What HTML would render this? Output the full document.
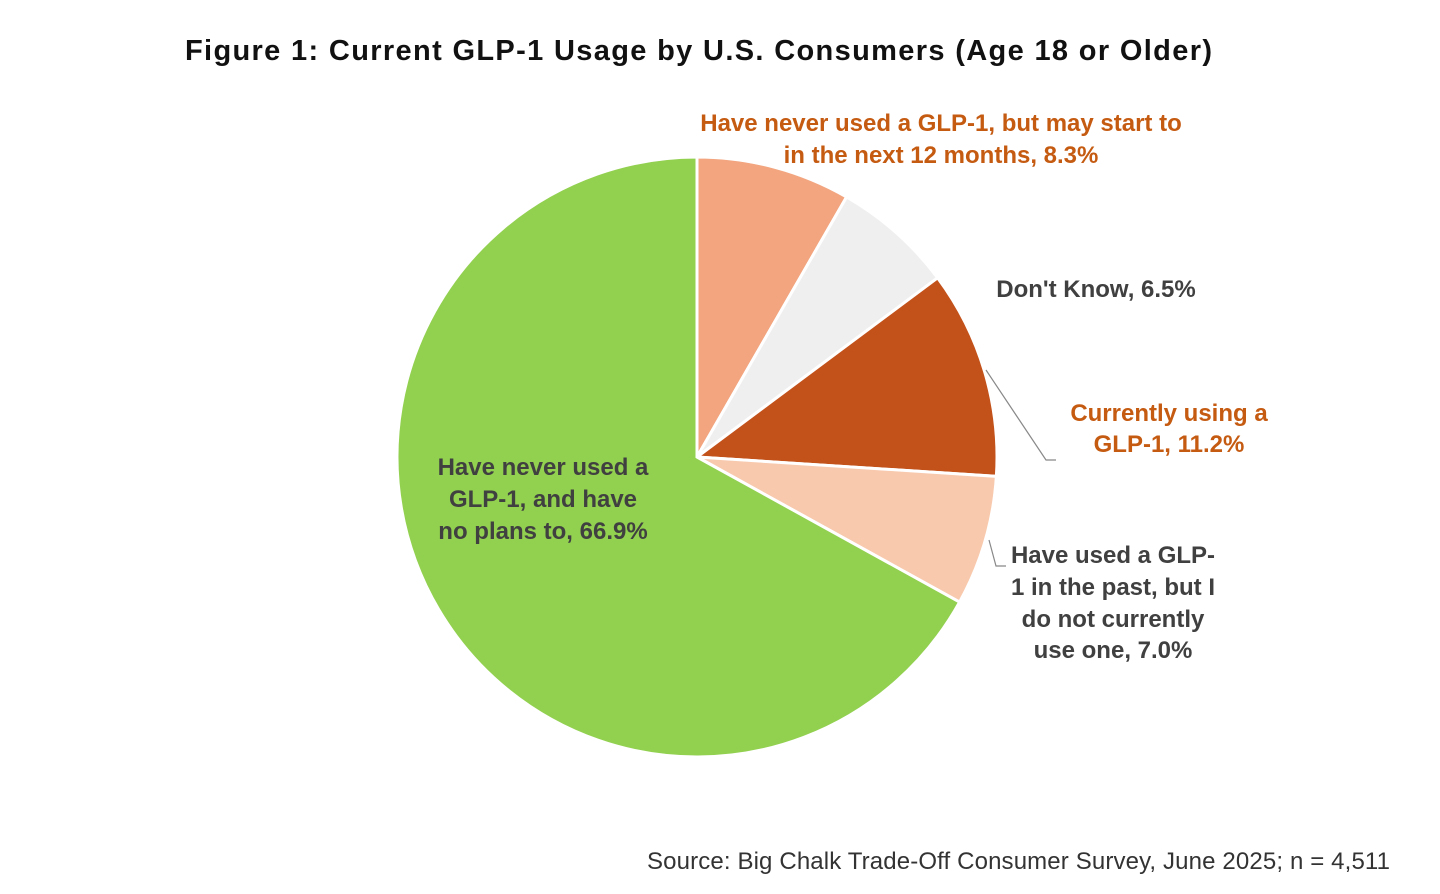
<!DOCTYPE html>
<html><head><meta charset="utf-8"><style>
html,body{margin:0;padding:0;background:#fff;width:1440px;height:894px;overflow:hidden}
svg text{font-family:"Liberation Sans",sans-serif}
</style></head><body>
<svg width="1440" height="894">
<text x="185" y="60" font-size="29" font-weight="bold" fill="#111" textLength="1027">Figure 1: Current GLP-1 Usage by U.S. Consumers (Age 18 or Older)</text>
<g id="slices"></g>
<polyline points="986,370 1046,460 1056,460" fill="none" stroke="#888" stroke-width="1.2"/>
<polyline points="989,540 996,566 1006,566" fill="none" stroke="#888" stroke-width="1.2"/>
<g font-size="24" font-weight="bold" text-anchor="middle">
<text fill="#c55a11"><tspan x="941" y="131">Have never used a GLP-1, but may start to</tspan><tspan x="941" y="163">in the next 12 months, 8.3%</tspan></text>
<text fill="#404040" x="1096" y="297">Don't Know, 6.5%</text>
<text fill="#c55a11"><tspan x="1169" y="421">Currently using a</tspan><tspan x="1169" y="452">GLP-1, 11.2%</tspan></text>
<text fill="#404040"><tspan x="1113" y="563">Have used a GLP-</tspan><tspan x="1113" y="595">1 in the past, but I</tspan><tspan x="1113" y="627">do not currently</tspan><tspan x="1113" y="658">use one, 7.0%</tspan></text>
<text fill="#404040"><tspan x="543" y="475">Have never used a</tspan><tspan x="543" y="507">GLP-1, and have</tspan><tspan x="543" y="539">no plans to, 66.9%</tspan></text>
</g>
<text x="1390" y="869" font-size="24" fill="#333" text-anchor="end" textLength="743">Source: Big Chalk Trade-Off Consumer Survey, June 2025; n = 4,511</text>
</svg>
<script>
const categories=["May start","Don't Know","Currently using","Used in past","No plans"];
const values=[8.3,6.5,11.2,7.0,66.9];
const colors=["#f2a57f","#efefef","#c3511a","#f8c9ad","#92d050"];
const names=['slice-may-start','slice-dont-know','slice-currently-using','slice-used-past','slice-no-plans'];
const cx=697,cy=457,r=300;
const total=values.reduce((a,b)=>a+b,0);
const g=document.getElementById('slices');
let a0=0;
values.forEach((v,i)=>{
  const a1=a0+v/total*2*Math.PI;
  const p=(a)=>[cx+r*Math.sin(a),cy-r*Math.cos(a)];
  const [x0,y0]=p(a0),[x1,y1]=p(a1);
  const path=document.createElementNS('http://www.w3.org/2000/svg','path');
  path.setAttribute('d',`M${cx},${cy} L${x0},${y0} A${r},${r} 0 ${(a1-a0)>Math.PI?1:0} 1 ${x1},${y1} Z`);
  path.setAttribute('fill',colors[i]);
  path.setAttribute('stroke','#fff');
  path.setAttribute('stroke-width','3');
  
  
  g.appendChild(path);
  a0=a1;
});
</script>
</body></html>
